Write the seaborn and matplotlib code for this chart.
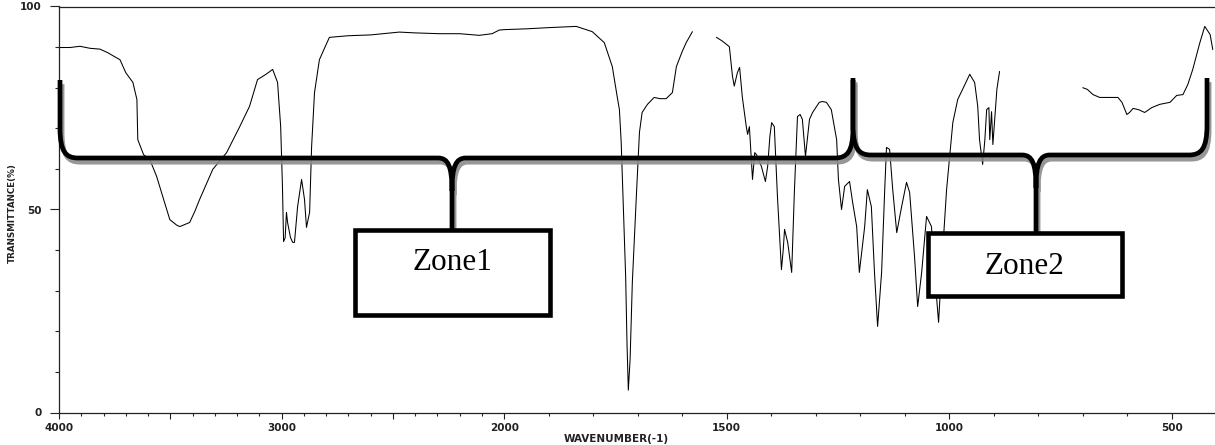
import numpy as np
import pandas as pd
import matplotlib
matplotlib.use("Agg")
import matplotlib.pyplot as plt
import seaborn as sns
from matplotlib.path import Path
from matplotlib.patches import PathPatch, Rectangle
from matplotlib.transforms import Affine2D
import matplotlib.patheffects as pe
from matplotlib.ticker import FixedLocator, FixedFormatter

# ---------------- data ----------------
seg1_wavenumber = [4000, 3950, 3906, 3860, 3816, 3780, 3749, 3726, 3700, 3668, 3650, 3646,
                   3620, 3592, 3561, 3530, 3502, 3470, 3457, 3435, 3413, 3390, 3368, 3309,
                   3247, 3188, 3144, 3108, 3070, 3040, 3018, 3004, 2996, 2991, 2984, 2978,
                   2973, 2960, 2950, 2942, 2935, 2928, 2910, 2897, 2888, 2874, 2865, 2852,
                   2830, 2800, 2785, 2700, 2600, 2471, 2400, 2291, 2200, 2112, 2054, 2022,
                   2000, 1950, 1899, 1838, 1802, 1775, 1757, 1746, 1741, 1737, 1732, 1727,
                   1724, 1721, 1717, 1712, 1703, 1696, 1690, 1678, 1663, 1650, 1636, 1622,
                   1613, 1600, 1591, 1577]
seg1_transmittance = [89.9, 89.9, 90.2, 89.7, 89.5, 88.6, 87.6, 86.9, 83.7, 81.3, 77.1, 67.2,
                      63.5, 62.3, 58.1, 52.5, 47.5, 46.1, 45.8, 46.3, 46.8, 49.5, 52.5, 59.9,
                      64.0, 70.4, 75.4, 82.0, 83.3, 84.5, 81.3, 70.4, 55.7, 42.1, 43.0, 49.3,
                      46.8, 43.1, 41.9, 41.9, 46.3, 50.7, 57.4, 52.5, 45.6, 49.3, 65.5, 78.8,
                      86.9, 90.6, 92.4, 92.8, 93.0, 93.7, 93.5, 93.3, 93.3, 92.9, 93.3, 94.2,
                      94.3, 94.5, 94.8, 95.1, 93.8, 91.1, 85.2, 77.8, 74.6, 66.5, 50.0, 33.5,
                      17.2, 5.5, 13.1, 32.0, 53.2, 69.0, 73.9, 75.9, 77.6, 77.3, 77.3, 78.8,
                      85.2, 88.9, 91.1, 93.8]

seg2_wavenumber = [1523, 1510, 1494, 1487, 1483, 1476, 1471, 1465, 1456, 1453, 1449, 1442,
                   1437, 1433, 1422, 1413, 1408, 1403, 1399, 1393, 1386, 1377, 1373, 1370,
                   1363, 1354, 1348, 1341, 1335, 1330, 1323, 1314, 1307, 1292, 1285, 1276,
                   1265, 1253, 1249, 1242, 1235, 1224, 1217, 1208, 1202, 1190, 1184, 1175,
                   1168, 1161, 1152, 1145, 1141, 1134, 1127, 1118, 1107, 1096, 1089, 1078,
                   1071, 1062, 1051, 1040, 1033, 1024, 1017, 1006, 992, 981, 970, 954,
                   943, 936, 932, 925, 920, 916, 911, 909, 905, 902, 893, 887]
seg2_transmittance = [92.4, 91.5, 90.1, 82.8, 80.4, 83.7, 85.0, 77.8, 70.4, 68.5, 70.4, 57.4,
                      64.0, 63.5, 60.6, 56.9, 60.6, 68.0, 71.4, 70.4, 53.2, 35.2, 40.1, 45.1,
                      41.9, 34.5, 54.2, 72.9, 73.4, 72.2, 63.1, 72.2, 73.9, 76.4, 76.6, 76.4,
                      74.6, 67.2, 57.4, 50.0, 55.7, 56.9, 51.7, 45.8, 34.5, 45.8, 54.9, 50.7,
                      34.5, 21.2, 34.5, 54.9, 65.3, 64.8, 54.9, 44.3, 50.7, 56.7, 54.2, 38.4,
                      26.1, 34.5, 48.3, 45.8, 34.5, 22.2, 36.0, 54.9, 71.4, 77.1, 79.6, 83.3,
                      81.3, 75.4, 67.2, 61.1, 67.2, 74.6, 75.1, 67.2, 74.1, 66.0, 79.6, 84.0]

seg3_wavenumber = [700, 690, 677, 662, 640, 621, 612, 601, 595, 587, 575, 561, 545, 527,
                   504, 489, 475, 464, 453, 437, 426, 414, 408]
seg3_transmittance = [80.0, 79.6, 78.3, 77.6, 77.6, 77.6, 76.4, 73.4, 73.9, 74.9, 74.6, 73.9,
                      75.1, 75.9, 76.4, 78.1, 78.3, 80.8, 84.5, 91.1, 95.1, 93.1, 89.4]

x_major_ticks = [4000, 3500, 3000, 2500, 2000, 1500, 1000, 500]
x_major_labels = ["4000", "", "3000", "", "2000", "1500", "1000", "500"]
y_major_ticks = [0, 50, 100]
y_major_labels = ["0", "50", "100"]
x_label = "WAVENUMBER(-1)"
y_label = "TRANSMITTANCE(%)"
zone_labels = ["Zone1", "Zone2"]

df = pd.concat([
    pd.DataFrame({"wn": seg1_wavenumber, "T": seg1_transmittance, "seg": 1}),
    pd.DataFrame({"wn": seg2_wavenumber, "T": seg2_transmittance, "seg": 2}),
    pd.DataFrame({"wn": seg3_wavenumber, "T": seg3_transmittance, "seg": 3}),
], ignore_index=True)

# ---------------- figure ----------------
sns.set_style("white")
plt.rcParams["font.family"] = ["DejaVu Sans"]

W, H = 1215, 445
fig = plt.figure(figsize=(W / 100, H / 100), dpi=100)
ax = fig.add_axes([59 / W, 1 - 412.5 / H, (W - 59) / W, (412.5 - 6.5) / H])

sns.lineplot(data=df, x="wn", y="T", units="seg", estimator=None, sort=False,
             color="black", lw=0.75, legend=False, ax=ax)


def fwd(w):
    w = np.asarray(w, float)
    return np.where(w > 2000, 2000 + (w - 2000) / 2.0, w)


def inv(u):
    u = np.asarray(u, float)
    return np.where(u > 2000, 2000 + (u - 2000) * 2.0, u)


ax.set_xscale("function", functions=(fwd, inv))
ax.set_xlim(4000, 403)
ax.set_ylim(0, 100)

ax.xaxis.set_major_locator(FixedLocator(x_major_ticks))
ax.xaxis.set_major_formatter(FixedFormatter(x_major_labels))
ax.xaxis.set_minor_locator(FixedLocator([v for v in range(4000, 400, -100) if v not in x_major_ticks]))
ax.yaxis.set_major_locator(FixedLocator(y_major_ticks))
ax.yaxis.set_major_formatter(FixedFormatter(y_major_labels))
ax.yaxis.set_minor_locator(FixedLocator([v for v in range(10, 100, 10) if v not in y_major_ticks]))

tick_color = "#222222"
ax.tick_params(axis="x", which="major", direction="out", length=4.3, width=0.8, pad=3.2,
               labelsize=7.5, colors=tick_color, bottom=True)
ax.tick_params(axis="x", which="minor", direction="out", length=2.2, width=0.8, bottom=True)
ax.tick_params(axis="y", which="major", direction="out", length=6.8, width=0.8, pad=5.5,
               labelsize=7.5, colors=tick_color, left=True)
ax.tick_params(axis="y", which="minor", direction="out", length=2.9, width=0.8, left=True)
for lab in ax.get_xticklabels() + ax.get_yticklabels():
    lab.set_fontweight("bold")

for side in ["left", "bottom", "top"]:
    ax.spines[side].set_color(tick_color)
    ax.spines[side].set_linewidth(0.9)
ax.spines["right"].set_visible(False)

ax.set_xlabel(x_label, fontsize=7.5, fontweight="bold", color=tick_color)
ax.set_ylabel(y_label, fontsize=6.3, fontweight="bold", color=tick_color)
ax.xaxis.set_label_coords((616 - 59) / 1156, (412.5 - 434.5) / 406)
ax.yaxis.set_label_coords((17 - 59) / 1156, 0.49)

# ---------------- annotations (pixel coordinates, y downward) ----------------
pix = Affine2D().scale(1 / W, -1 / H).translate(0, 1) + fig.transFigure
M, L, C = Path.MOVETO, Path.LINETO, Path.CURVE4


def brace(x0, x1, xm, ytop, yh, ystem):
    verts = [(x0, ytop), (x0, yh - 30), (x0, yh - 6), (x0 + 6, yh), (x0 + 18, yh),
             (xm - 14, yh), (xm - 4, yh), (xm, yh + 8), (xm, yh + 33), (xm, ystem),
             (xm, yh + 33), (xm, yh + 8), (xm + 4, yh), (xm + 14, yh),
             (x1 - 18, yh), (x1 - 6, yh), (x1, yh - 6), (x1, yh - 30), (x1, ytop)]
    codes = [M, L, C, C, C, L, C, C, C, L, M, C, C, C, L, C, C, C, L]
    return Path(verts, codes)


shadow = [pe.SimpleLineShadow(offset=(1.5, -3.0), shadow_color="0.55", alpha=0.9), pe.Normal()]
for p in [brace(60, 853, 452, 80, 158, 232), brace(853, 1207, 1036, 78, 155, 235)]:
    patch = PathPatch(p, transform=pix, fill=False, edgecolor="black", lw=3.4,
                      capstyle="butt", joinstyle="round", zorder=5, path_effects=shadow)
    fig.add_artist(patch)

boxes = [(355, 230, 550, 315), (928, 233, 1122, 296)]
text_pos = [(452, 262), (1024, 267)]
for (bx0, by0, bx1, by1), (tx, ty), lab in zip(boxes, text_pos, zone_labels):
    rect = Rectangle((bx0, by0), bx1 - bx0, by1 - by0, transform=pix, facecolor="white",
                     edgecolor="black", lw=3.3, zorder=6)
    fig.add_artist(rect)
    fig.text(tx, ty, lab, transform=pix, ha="center", va="center", fontsize=22.5,
             family="Liberation Serif", color="black", zorder=7)

fig.savefig("out.png", dpi=100)
